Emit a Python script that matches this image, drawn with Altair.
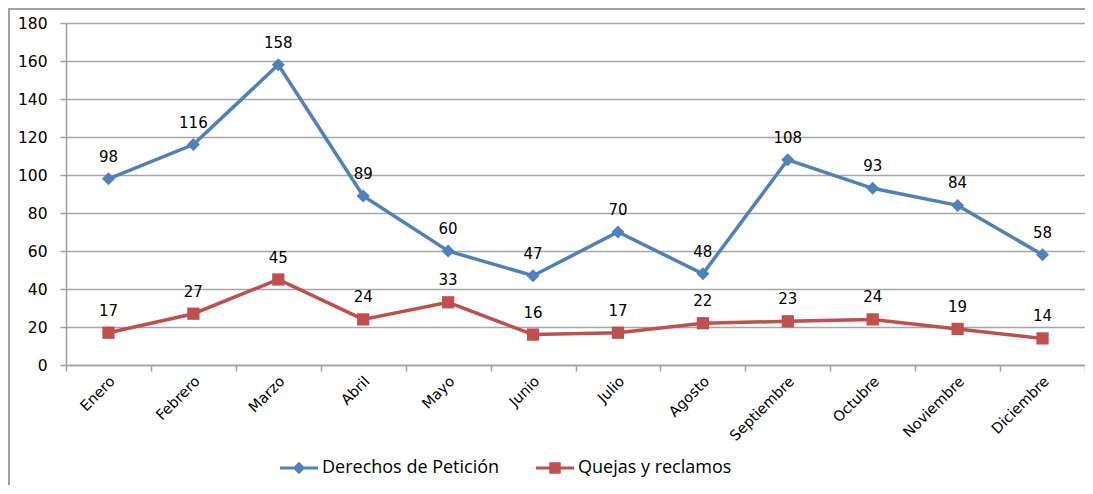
import altair as alt
import pandas as pd

meses = ["Enero", "Febrero", "Marzo", "Abril", "Mayo", "Junio", "Julio",
         "Agosto", "Septiembre", "Octubre", "Noviembre", "Diciembre"]
derechos = [98, 116, 158, 89, 60, 47, 70, 48, 108, 93, 84, 58]
quejas = [17, 27, 45, 24, 33, 16, 17, 22, 23, 24, 19, 14]
series = ["Derechos de Petición", "Quejas y reclamos"]
colores = ["#4F81BD", "#C0504D"]
y_ticks = [0, 20, 40, 60, 80, 100, 120, 140, 160, 180]

rows = []
for m, d, q in zip(meses, derechos, quejas):
    rows.append({"mes": m, "serie": series[0], "valor": d})
    rows.append({"mes": m, "serie": series[1], "valor": q})
df = pd.DataFrame(rows)

FONT = "DejaVu Sans"
LFONT = "Open Sans"

x_enc = alt.X("mes:N", sort=meses, title=None,
              scale=alt.Scale(paddingInner=0, paddingOuter=0),
              axis=alt.Axis(labelAngle=-45, labelAlign="right", labelBaseline="middle",
                            labelPadding=8, labelOffset=4, tickBand="extent", tickSize=6,
                            tickColor="#a0a0a0", domainColor="#a0a0a0", domainWidth=1.5,
                            tickWidth=1.5, labelFontSize=14.5, labelColor="#000000",
                            labelFont=FONT, grid=False))
y_enc = alt.Y("valor:Q", title=None,
              scale=alt.Scale(domain=[0, 180], nice=False, zero=True),
              axis=alt.Axis(values=y_ticks, tickSize=6, tickColor="#a0a0a0",
                            domainColor="#a0a0a0", domainWidth=1.5, tickWidth=1.5,
                            gridColor="#a6a6a6", gridWidth=1.5, labelPadding=13,
                            labelFontSize=15.5, labelColor="#000000", labelFont=FONT))
color_scale = alt.Scale(domain=series, range=colores)

legend_paths = [
    "M-1,-0.08H1V0.08H-1Z M0,-0.33L0.33,0L0,0.33L-0.33,0Z",
    "M-1,-0.08H1V0.08H-1Z M-0.3,-0.3H0.3V0.3H-0.3Z",
]
leg = alt.Legend(orient="none", direction="horizontal", legendX=214, legendY=426,
                 title=None, symbolSize=1444, symbolStrokeWidth=0, symbolOpacity=1,
                 labelFontSize=18, labelFont=LFONT, labelColor="#000000",
                 labelOffset=4, columnPadding=36, labelLimit=400)

base = alt.Chart(df)

line = base.mark_line(strokeWidth=3.5).encode(
    x=x_enc, y=y_enc,
    color=alt.Color("serie:N", scale=color_scale, legend=leg),
    shape=alt.Shape("serie:N", scale=alt.Scale(domain=series, range=legend_paths),
                    legend=leg),
    detail="serie:N",
)

pts_d = base.transform_filter(alt.datum.serie == series[0]).mark_point(
    filled=True, opacity=1, shape="diamond", size=170).encode(
    x=x_enc, y=y_enc,
    color=alt.Color("serie:N", scale=color_scale),
)
pts_q = base.transform_filter(alt.datum.serie == series[1]).mark_point(
    filled=True, opacity=1, shape="square", size=150).encode(
    x=x_enc, y=y_enc,
    color=alt.Color("serie:N", scale=color_scale),
)

labels = base.mark_text(dy=-22, fontSize=15, font=FONT, color="#000000").encode(
    x=x_enc, y=y_enc, text="valor:Q",
)

frame_left = alt.Chart(pd.DataFrame({"a": [0]})).mark_rule(
    color="#a0a0a0", strokeWidth=2).encode(
    x=alt.value(-57), y=alt.value(-14), y2=alt.value(480))
frame_top = alt.Chart(pd.DataFrame({"a": [0]})).mark_rule(
    color="#a0a0a0", strokeWidth=2).encode(
    y=alt.value(-14), x=alt.value(-58), x2=alt.value(1019))

chart = alt.layer(frame_left, frame_top, line, pts_d, pts_q, labels).properties(
    width=1019, height=342,
    autosize=alt.AutoSizeParams(type="none"),
    padding={"left": 58, "top": 15, "right": 0, "bottom": 120},
).configure_view(stroke=None).configure(background="#ffffff")

chart.save("out.html", embed_options={"renderer": "svg", "actions": False})
